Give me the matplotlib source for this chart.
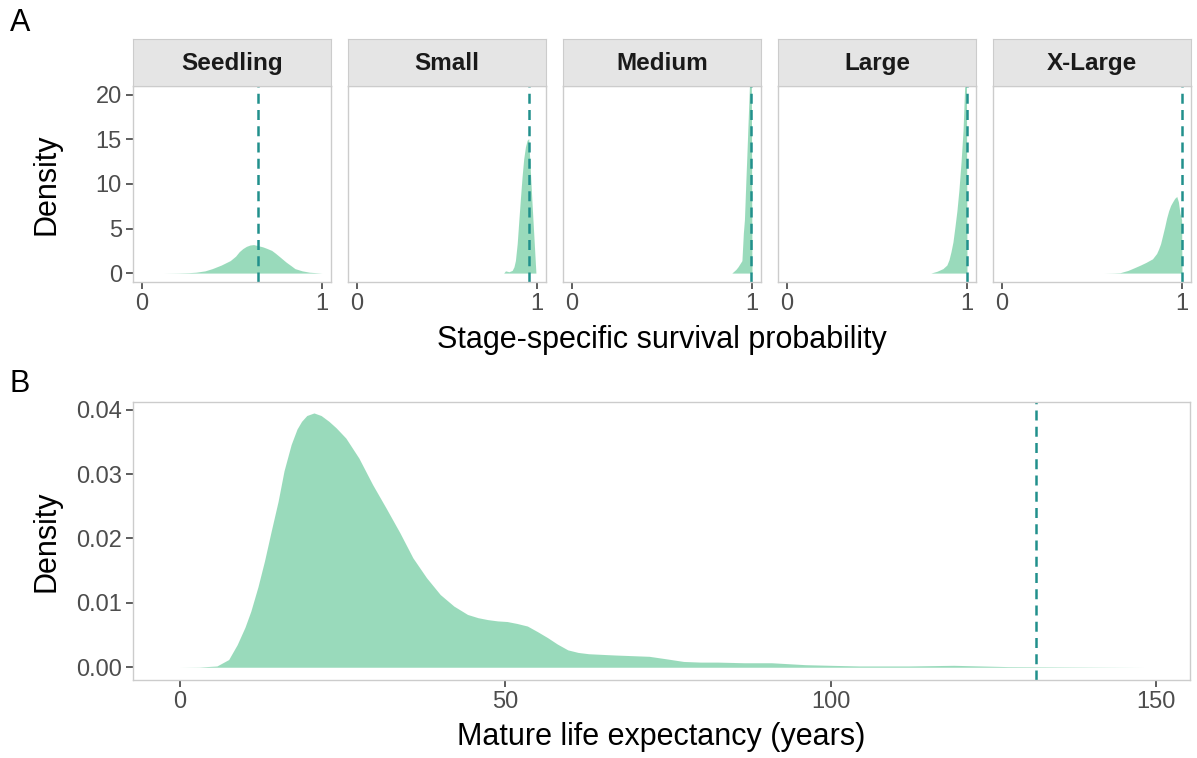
import numpy as np
import matplotlib
matplotlib.use("Agg")
import matplotlib.pyplot as plt

plt.rcParams['font.family'] = ['Liberation Sans', 'DejaVu Sans']

# panel A: stage-specific survival densities
stages = ["Seedling", "Small", "Medium", "Large", "X-Large"]

seedling_x = [0.12, 0.20, 0.26, 0.30, 0.35, 0.39, 0.44, 0.49, 0.52, 0.54, 0.56, 0.58, 0.60, 0.62,
              0.64, 0.67, 0.69, 0.72, 0.74, 0.77, 0.80, 0.83, 0.85, 0.89, 0.93, 1.00]
seedling_y = [0.0, 0.02, 0.05, 0.1, 0.25, 0.5, 0.9, 1.4, 1.9, 2.4, 2.75, 3.0, 3.15, 3.2,
              3.1, 2.95, 2.8, 2.55, 2.25, 1.75, 1.24, 0.8, 0.5, 0.25, 0.1, 0.0]

small_x = [0.815, 0.825, 0.844, 0.862, 0.872, 0.880, 0.890, 0.899, 0.908, 0.917, 0.926, 0.936,
           0.945, 0.954, 0.963, 0.972, 0.983, 0.994]
small_y = [0.0, 0.25, 0.15, 0.3, 0.7, 1.4, 3.3, 5.9, 8.4, 10.8, 12.8, 14.2, 14.9, 15.1, 11.5,
           8.0, 4.0, 0.0]

medium_x = [0.888, 0.899, 0.910, 0.922, 0.933, 0.944, 0.952, 0.958, 0.966, 0.972, 0.978, 0.984,
            0.989, 0.995, 1.000]
medium_y = [0.0, 0.2, 0.4, 0.7, 1.05, 1.4, 4.5, 6.0, 10.4, 13.5, 16.8, 20.0, 23.0, 30.0, 0.0]

large_x = [0.799, 0.833, 0.866, 0.888, 0.900, 0.911, 0.922, 0.933, 0.944, 0.955, 0.967, 0.978,
           0.989, 0.996, 1.000]
large_y = [0.0, 0.2, 0.5, 0.9, 1.5, 2.4, 3.5, 5.2, 7.0, 9.3, 12.5, 16.0, 22.0, 28.0, 0.0]

xlarge_x = [0.567, 0.620, 0.657, 0.700, 0.735, 0.769, 0.800, 0.836, 0.859, 0.870, 0.881, 0.892,
            0.904, 0.915, 0.926, 0.937, 0.948, 0.960, 0.971, 0.980, 0.989, 0.998, 1.000]
xlarge_y = [0.0, 0.02, 0.05, 0.3, 0.6, 0.9, 1.2, 1.6, 2.2, 2.7, 3.3, 4.2, 5.2, 6.2, 7.0, 7.6,
            8.0, 8.4, 8.6, 8.0, 6.7, 6.0, 0.0]

stage_x = [seedling_x, small_x, medium_x, large_x, xlarge_x]
stage_y = [seedling_y, small_y, medium_y, large_y, xlarge_y]
stage_ref = [0.642, 0.954, 0.997, 1.0, 1.0]

# panel B: mature life expectancy density
life_x = [0, 3, 5.7, 7.5, 8.8, 10, 10.9, 12, 13, 14, 15.1, 16, 17.1, 18, 18.7, 19.5, 20.6,
          21.7, 22.9, 24, 25.5, 27.5, 29.6, 31.7, 33.8, 35.8, 37.9, 40, 42.1, 44.2, 45.8, 47.3,
          48.8, 50.3, 51.8, 53.4, 55, 56.5, 58, 59.6, 61.2, 62.8, 64.8, 66.9, 69.5, 72.1, 74.8,
          77.4, 80, 82.6, 86.7, 90.9, 96.1, 100, 104.4, 112, 118.9, 127.3, 137.6, 148]
life_y = [0, 0.00003, 0.0002, 0.0012, 0.0035, 0.0062, 0.0087, 0.0125, 0.0165, 0.021, 0.0258,
          0.0305, 0.0346, 0.0370, 0.0382, 0.0391, 0.0395, 0.0391, 0.0382, 0.0372, 0.0356,
          0.0325, 0.0284, 0.0247, 0.0209, 0.0170, 0.0139, 0.0113, 0.0095, 0.0082, 0.0077,
          0.0074, 0.0072, 0.0071, 0.0068, 0.0064, 0.0055, 0.0046, 0.0036, 0.0027, 0.0023,
          0.0021, 0.0020, 0.0019, 0.0018, 0.0017, 0.0013, 0.0009, 0.0008, 0.0008, 0.0007,
          0.0007, 0.0004, 0.0003, 0.0002, 0.0002, 0.0003, 0.0001, 0.00005, 0]
life_ref = 131.5

fill_col = "#35B779"
line_col = "#21908C"
border_col = "#CCCCCC"
tick_col = "#4D4D4D"

W, H = 1197, 758
fig = plt.figure(figsize=(W / 100, H / 100), dpi=100)


def px_axes(left, top, right, bottom):
    return fig.add_axes([left / W, 1 - bottom / H, (right - left) / W, (bottom - top) / H])


def style(ax):
    for s in ax.spines.values():
        s.set_color(border_col)
        s.set_linewidth(1.0)
    ax.tick_params(length=5, width=1.1, color="#333333", labelcolor=tick_col,
                   labelsize=17, pad=3)


lefts = [133, 348, 563, 778, 993]
for i, st in enumerate(stages):
    ax = px_axes(lefts[i], 86, lefts[i] + 198, 282)
    ax.fill_between(stage_x[i], stage_y[i], color=fill_col, alpha=0.5, lw=0)
    ax.axvline(stage_ref[i], color=line_col, lw=1.8, dashes=(4, 2.5))
    ax.set_xlim(-0.05, 1.05)
    ax.set_ylim(-1, 21)
    ax.set_xticks([0, 1])
    ax.set_yticks([0, 5, 10, 15, 20])
    style(ax)
    if i > 0:
        ax.tick_params(axis="y", left=False, labelleft=False)
    # facet strip
    sx = px_axes(lefts[i], 39, lefts[i] + 198, 86)
    sx.set_facecolor("#E5E5E5")
    sx.set_xticks([])
    sx.set_yticks([])
    for s in sx.spines.values():
        s.set_color(border_col)
    sx.text(0.5, 0.48, st, ha="center", va="center", fontsize=17.5, fontweight="bold",
            color="#1A1A1A", transform=sx.transAxes)

fig.text(47 / W, 1 - 184 / H, "Density", rotation=90, ha="center", va="center", fontsize=22)
fig.text(661.5 / W, 1 - 340 / H, "Stage-specific survival probability", ha="center",
         va="center", fontsize=22)

axb = px_axes(133, 402, 1190, 680)
axb.fill_between(life_x, life_y, color=fill_col, alpha=0.5, lw=0)
axb.axvline(life_ref, color=line_col, lw=1.8, dashes=(4, 2.5))
axb.set_xlim(-7.2, 155.2)
axb.set_ylim(-0.00198, 0.0412)
axb.set_xticks([0, 50, 100, 150])
axb.set_yticks([0, 0.01, 0.02, 0.03, 0.04])
axb.set_yticklabels(["0.00", "0.01", "0.02", "0.03", "0.04"])
style(axb)
fig.text(47 / W, 1 - 541 / H, "Density", rotation=90, ha="center", va="center", fontsize=22)
fig.text(661.5 / W, 1 - 737 / H, "Mature life expectancy (years)", ha="center",
         va="center", fontsize=22)

fig.text(10 / W, 1 - 23 / H, "A", fontsize=22, va="center", ha="left")
fig.text(10 / W, 1 - 384 / H, "B", fontsize=22, va="center", ha="left")

fig.savefig("out.png", dpi=100)
